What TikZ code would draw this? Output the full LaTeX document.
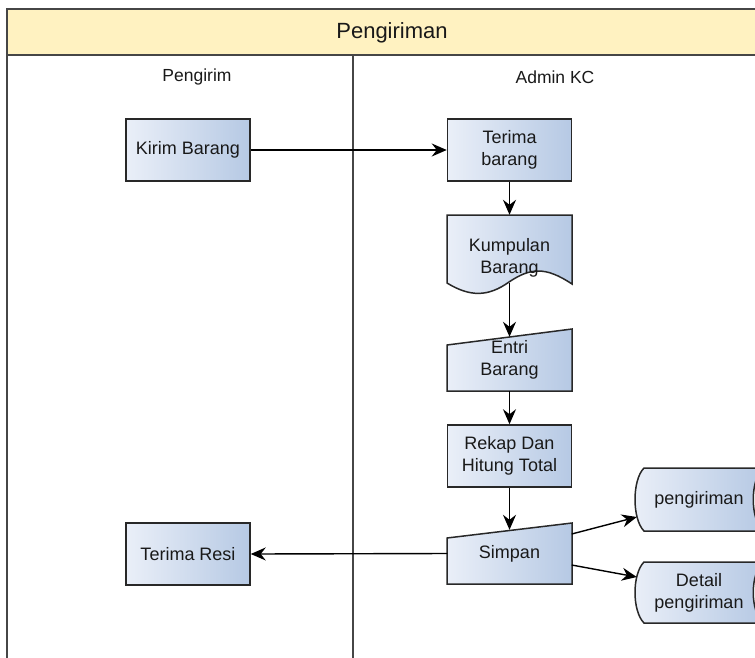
\documentclass[tikz,border=0pt]{standalone}
\usepackage{fontspec}
\setmainfont{Liberation Sans}
\usetikzlibrary{arrows.meta,calc}
\definecolor{boxl}{RGB}{234,239,248}
\definecolor{boxr}{RGB}{182,201,228}
\definecolor{hdr}{RGB}{255,242,193}
\definecolor{edge}{RGB}{40,40,40}
\definecolor{frm}{RGB}{70,70,70}
\definecolor{txt}{RGB}{25,25,25}
\begin{document}
\begin{tikzpicture}[x=1pt,y=-1pt,
  shp/.style={draw=edge, line width=1.5pt, left color=boxl, right color=boxr},
  lbl/.style={font=\fontsize{18}{22}\selectfont, text=txt, align=center, inner sep=0pt},
  box/.style={shp, lbl, minimum width=124pt, minimum height=62pt},
  ghost/.style={lbl, minimum width=124pt},
  arr/.style={draw=black, line width=1.4pt, -{Stealth[length=15pt,width=13pt,inset=5pt]}},
  lane/.style={font=\fontsize{17.5}{20}\selectfont, text=txt, inner sep=0pt},
]
\useasboundingbox (0,0) rectangle (755,657);
\clip (0,0) rectangle (755,657);
% pool frame
\fill[hdr] (7,9) rectangle (800,55);
\draw[frm, line width=2pt] (800,9) -- (7,9) -- (7,700);
\draw[frm, line width=2pt] (7,55) -- (800,55);
\draw[frm, line width=1.5pt] (353,55) -- (353,700);
\node[font=\fontsize{22}{26}\selectfont, text=txt, inner sep=0pt] (title) at (392,33) {Pengiriman};
\node[lane] (lane1) at (197,77) {Pengirim};
\node[lane] (lane2) at (555,77) {Admin KC};
% shapes
\node[box] (kirim) at (188,150) {Kirim Barang};
\node[box] (terima) at (509.5,150) {Terima\\barang};
\path[shp] (447,215) -- (572,215) -- (572,284) .. controls (545,266) and (530,268) .. (509,282) .. controls (488,297) and (470,297) .. (447,283) -- cycle;
\node[ghost, minimum height=86pt] (kum) at (509.5,258) {Kumpulan\\Barang};
\path[shp] (447,345) -- (572,329) -- (572,391) -- (447,391) -- cycle;
\node[ghost, minimum height=62pt] (entri) at (509.5,360) {Entri\\Barang};
\node[box] (rekap) at (509.5,456) {Rekap Dan\\Hitung Total};
\path[shp] (447,538) -- (572,523) -- (572,584) -- (447,584) -- cycle;
\node[ghost, minimum height=61pt] (simpan) at (509.5,553.5) {Simpan};
\node[box] (resi) at (188,554) {Terima Resi};
\path[shp] (644,468) -- (763,468) .. controls (750,480) and (750,519) .. (763,531) -- (644,531) .. controls (632,519) and (632,480) .. (644,468) -- cycle;
\node[lbl, minimum width=128pt, minimum height=63pt] (peng) at (699,499.5) {pengiriman};
\path[shp] (644,562) -- (763,562) .. controls (750,574) and (750,611) .. (763,623) -- (644,623) .. controls (632,611) and (632,574) .. (644,562) -- cycle;
\node[lbl, minimum width=128pt, minimum height=61pt] (detail) at (699,592.5) {Detail\\pengiriman};
% connectors
\draw[arr] (kirim.east) -- (terima.west);
\draw[arr] (terima.south) -- (kum.north);
\draw[arr] ([yshift=18pt]kum.south) -- ([yshift=-8pt]entri.north);
\draw[arr] (entri.south) -- (rekap.north);
\draw[arr] (rekap.south) -- ([yshift=-7pt]simpan.north);
\draw[arr] (simpan.west) -- (resi.east);
\draw[arr] ([yshift=19.5pt]simpan.east) -- ([xshift=2pt,yshift=-17.5pt]peng.west);
\draw[arr] ([yshift=-11.5pt]simpan.east) -- ([xshift=2pt,yshift=15.5pt]detail.west);
\end{tikzpicture}
\end{document}
